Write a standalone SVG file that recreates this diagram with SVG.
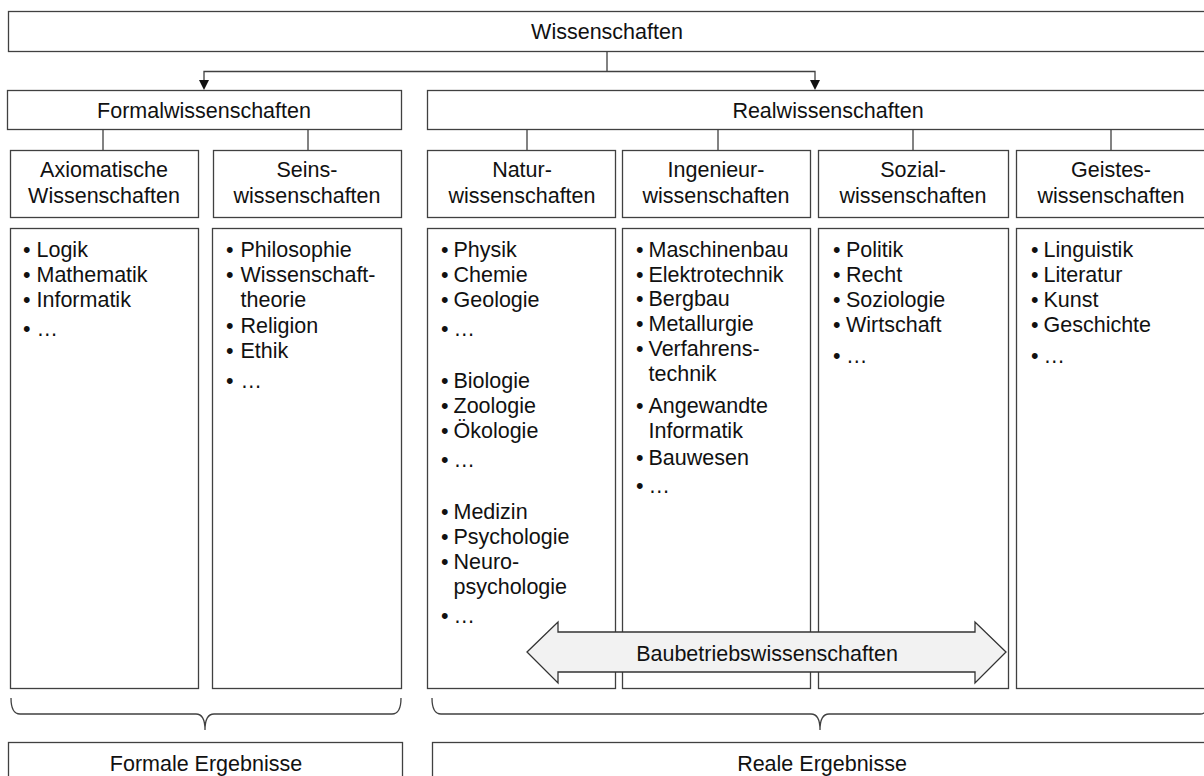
<svg xmlns="http://www.w3.org/2000/svg" width="1204" height="776" viewBox="0 0 1204 776">
<style>
.box{fill:#fff;stroke:#404040;stroke-width:1.3}
.ln{fill:none;stroke:#404040;stroke-width:1.3}
text{font-family:"Liberation Sans",Arial,sans-serif;font-size:21.5px;fill:#111}
.c{text-anchor:middle}
</style>
<rect width="1204" height="776" fill="#fff"/>
<g id="connectors">
<path class="ln" d="M607,51.5 V71.5 M204,80 V71.5 H815 V80"/>
<polygon points="199,80 209,80 204,90" fill="#111"/>
<polygon points="810,80 820,80 815,90" fill="#111"/>
<path class="ln" d="M103,129.5 V150.5 M308,129.5 V150.5 M527,129.5 V150.5 M718,129.5 V150.5 M913,129.5 V150.5 M1111,129.5 V150.5"/>
<path class="ln" d="M11,698 Q11,714 20,714 L196,714 Q205,714 205,730 Q205,714 214,714 L392,714 Q401,714 401,698"/>
<path class="ln" d="M432,698 Q432,714 441,714 L811,714 Q820,714 820,730 Q820,714 829,714 L1200,714 Q1209,714 1209,698"/>
</g>
<g id="wissenschaften"><rect class="box" x="8.5" y="11.5" width="1200" height="40"/><text class="c" x="607" y="39">Wissenschaften</text></g>
<g id="formal"><rect class="box" x="7.5" y="90.5" width="394" height="39"/><text class="c" x="204" y="118">Formalwissenschaften</text></g>
<g id="real"><rect class="box" x="427.5" y="90.5" width="800" height="39"/><text class="c" x="828" y="118">Realwissenschaften</text></g>
<g id="axiomatische"><rect class="box" x="10.5" y="150.5" width="188" height="67"/><text class="c" x="104" y="177">Axiomatische</text><text class="c" x="104" y="203">Wissenschaften</text></g>
<g id="seins"><rect class="box" x="213.5" y="150.5" width="188" height="67"/><text class="c" x="307" y="177">Seins-</text><text class="c" x="307" y="203">wissenschaften</text></g>
<g id="natur"><rect class="box" x="427.5" y="150.5" width="188" height="67"/><text class="c" x="522" y="177">Natur-</text><text class="c" x="522" y="203">wissenschaften</text></g>
<g id="ingenieur"><rect class="box" x="622.5" y="150.5" width="188" height="67"/><text class="c" x="716" y="177">Ingenieur-</text><text class="c" x="716" y="203">wissenschaften</text></g>
<g id="sozial"><rect class="box" x="818.5" y="150.5" width="190" height="67"/><text class="c" x="913" y="177">Sozial-</text><text class="c" x="913" y="203">wissenschaften</text></g>
<g id="geistes"><rect class="box" x="1016.5" y="150.5" width="192" height="67"/><text class="c" x="1111" y="177">Geistes-</text><text class="c" x="1111" y="203">wissenschaften</text></g>
<g id="axiomatische-liste"><rect class="box" x="10.5" y="228.5" width="188" height="460"/>
<text x="23" y="257">•</text><text x="36.5" y="257">Logik</text>
<text x="23" y="282">•</text><text x="36.5" y="282">Mathematik</text>
<text x="23" y="307">•</text><text x="36.5" y="307">Informatik</text>
<text x="23" y="336">•</text><text x="36.5" y="336">…</text>
</g>
<g id="seins-liste"><rect class="box" x="212.5" y="228.5" width="189" height="460"/>
<text x="226" y="257">•</text><text x="240.5" y="257">Philosophie</text>
<text x="226" y="282">•</text><text x="240.5" y="282">Wissenschaft-</text>
<text x="240.5" y="307">theorie</text>
<text x="226" y="333">•</text><text x="240.5" y="333">Religion</text>
<text x="226" y="358">•</text><text x="240.5" y="358">Ethik</text>
<text x="226" y="388">•</text><text x="240.5" y="388">…</text>
</g>
<g id="natur-liste"><rect class="box" x="427.5" y="228.5" width="188" height="460"/>
<text x="441" y="257">•</text><text x="453.5" y="257">Physik</text>
<text x="441" y="282">•</text><text x="453.5" y="282">Chemie</text>
<text x="441" y="307">•</text><text x="453.5" y="307">Geologie</text>
<text x="441" y="336">•</text><text x="453.5" y="336">…</text>
<text x="441" y="388">•</text><text x="453.5" y="388">Biologie</text>
<text x="441" y="413">•</text><text x="453.5" y="413">Zoologie</text>
<text x="441" y="438">•</text><text x="453.5" y="438">Ökologie</text>
<text x="441" y="467">•</text><text x="453.5" y="467">…</text>
<text x="441" y="519">•</text><text x="453.5" y="519">Medizin</text>
<text x="441" y="544">•</text><text x="453.5" y="544">Psychologie</text>
<text x="441" y="569">•</text><text x="453.5" y="569">Neuro-</text>
<text x="453.5" y="594">psychologie</text>
<text x="441" y="623">•</text><text x="453.5" y="623">…</text>
</g>
<g id="ingenieur-liste"><rect class="box" x="622.5" y="228.5" width="188" height="460"/>
<text x="636" y="257">•</text><text x="648.5" y="257">Maschinenbau</text>
<text x="636" y="282">•</text><text x="648.5" y="282">Elektrotechnik</text>
<text x="636" y="306">•</text><text x="648.5" y="306">Bergbau</text>
<text x="636" y="331">•</text><text x="648.5" y="331">Metallurgie</text>
<text x="636" y="356">•</text><text x="648.5" y="356">Verfahrens-</text>
<text x="648.5" y="381">technik</text>
<text x="636" y="413">•</text><text x="648.5" y="413">Angewandte</text>
<text x="648.5" y="438">Informatik</text>
<text x="636" y="465">•</text><text x="648.5" y="465">Bauwesen</text>
<text x="636" y="493">•</text><text x="648.5" y="493">…</text>
</g>
<g id="sozial-liste"><rect class="box" x="818.5" y="228.5" width="190" height="460"/>
<text x="833" y="257">•</text><text x="846" y="257">Politik</text>
<text x="833" y="282">•</text><text x="846" y="282">Recht</text>
<text x="833" y="307">•</text><text x="846" y="307">Soziologie</text>
<text x="833" y="332">•</text><text x="846" y="332">Wirtschaft</text>
<text x="833" y="363">•</text><text x="846" y="363">…</text>
</g>
<g id="geistes-liste"><rect class="box" x="1016.5" y="228.5" width="192" height="460"/>
<text x="1031" y="257">•</text><text x="1043.5" y="257">Linguistik</text>
<text x="1031" y="282">•</text><text x="1043.5" y="282">Literatur</text>
<text x="1031" y="307">•</text><text x="1043.5" y="307">Kunst</text>
<text x="1031" y="332">•</text><text x="1043.5" y="332">Geschichte</text>
<text x="1031" y="363">•</text><text x="1043.5" y="363">…</text>
</g>
<g id="baubetrieb">
<polygon points="527,652 558,622 558,632 975,632 975,622 1006,652 975,683 975,672 558,672 558,683" fill="#f2f2f2" stroke="#333" stroke-width="1.3"/>
<text class="c" x="767" y="661">Baubetriebswissenschaften</text>
</g>
<g id="formale-ergebnisse"><rect class="box" x="8.5" y="742.5" width="394" height="60"/><text class="c" x="206" y="771">Formale Ergebnisse</text></g>
<g id="reale-ergebnisse"><rect class="box" x="432.5" y="742.5" width="780" height="60"/><text class="c" x="822" y="771">Reale Ergebnisse</text></g>
</svg>
